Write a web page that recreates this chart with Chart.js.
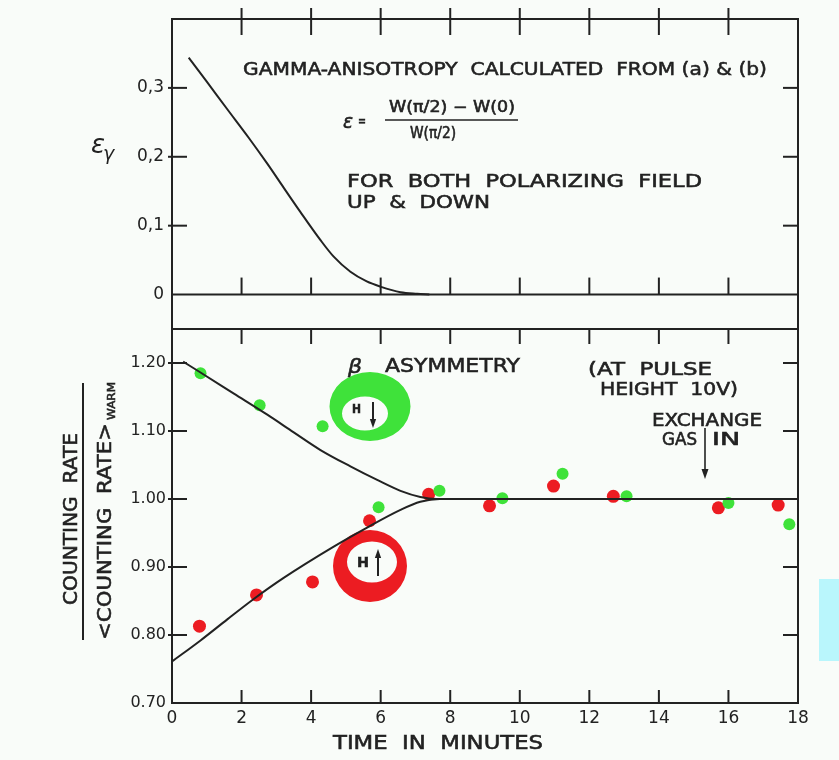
<!DOCTYPE html>
<html>
<head>
<meta charset="utf-8">
<script src="https://cdn.jsdelivr.net/npm/chart.js@4.4.0/dist/chart.umd.min.js"></script>
<style>
  html, body { margin: 0; padding: 0; background: #f9fcf9; }
  #wrap { position: relative; width: 839px; height: 760px; overflow: hidden; }
  canvas { display: block; }
  #tab { position: absolute; left: 819px; top: 579px; width: 20px; height: 82px; background: #b9f6fc; }
</style>
</head>
<body>
<div id="wrap">
  <canvas id="chart" width="839" height="760"></canvas>
  <div id="tab"></div>
</div>
<script>
// ---- axis ticks ----
const timeTicks = [0, 2, 4, 6, 8, 10, 12, 14, 16, 18];
const gammaTicks = [0, 0.1, 0.2, 0.3];
const gammaTickLabels = ['0', '0,1', '0,2', '0,3'];
const ratioTicks = [0.7, 0.8, 0.9, 1.0, 1.1, 1.2];
const ratioTickLabels = ['0.70', '0.80', '0.90', '1.00', '1.10', '1.20'];

// ---- gamma anisotropy curve (upper panel) ----
const gammaCurveT   = [0.48, 1.0, 1.59, 2.2, 2.74, 3.2, 3.69, 4.27, 4.65, 5.13, 5.6, 5.99, 6.57, 7.05, 7.4];
const gammaCurveEps = [0.344, 0.309, 0.269, 0.228, 0.190, 0.156, 0.120, 0.079, 0.055, 0.033, 0.019, 0.0115, 0.0033, 0.001, 0.0];

// ---- beta asymmetry fitted curves (lower panel) ----
const downCurveT = [0.32, 0.82, 1.78, 2.74, 3.5, 4.27, 5.13, 5.9, 6.57, 7.14, 7.6, 18];
const downCurveR = [1.202, 1.186, 1.155, 1.124, 1.098, 1.072, 1.048, 1.028, 1.012, 1.003, 1.0, 1.0];
const upCurveT   = [0, 0.82, 1.59, 2.35, 3.21, 4.65, 5.61, 6.57, 7.14, 7.7, 18];
const upCurveR   = [0.761, 0.792, 0.823, 0.853, 0.884, 0.930, 0.958, 0.984, 0.996, 1.0, 1.0];

// ---- measured counting-rate ratios ----
const downT = [0.82, 2.52, 4.33, 5.94, 7.69, 9.5, 11.23, 13.07, 16.0, 17.75];     // H down
const downR = [1.185, 1.138, 1.107, 0.988, 1.012, 1.001, 1.037, 1.004, 0.994, 0.963];
const upT   = [0.79, 2.43, 4.04, 5.68, 7.38, 9.13, 10.97, 12.69, 15.71, 17.43];   // H up
const upR   = [0.813, 0.859, 0.878, 0.968, 1.007, 0.990, 1.019, 1.004, 0.987, 0.991];

const FONT = '"DejaVu Sans", "Liberation Sans", sans-serif';
const INK = '#222222';
const GREEN = '#3fe23a';
const RED = '#ec1c22';

const pairs = (xs, ys) => xs.map((x, i) => ({ x, y: ys[i] }));

// lettering squeezed/stretched to a given width, vertically centred on cap height
function fitText(ctx, str, x, cy, w, size, style) {
  ctx.save();
  ctx.font = (style || '') + ' ' + size + 'px ' + FONT;
  const m = ctx.measureText(str).width;
  ctx.translate(x, cy + 0.365 * size);
  ctx.scale(w / m, 1);
  ctx.textAlign = 'left';
  ctx.textBaseline = 'alphabetic';
  ctx.fillStyle = INK;
  ctx.strokeStyle = INK;
  ctx.lineWidth = 0.55;
  ctx.fillText(str, 0, 0);
  ctx.strokeText(str, 0, 0);
  ctx.restore();
}

function vText(ctx, str, cx, cy, len, size) {
  ctx.save();
  ctx.translate(cx, cy);
  ctx.rotate(-Math.PI / 2);
  fitText(ctx, str, -len / 2, 0, len, size);
  ctx.restore();
}

function ring(ctx, color, o, i) {
  ctx.save();
  ctx.beginPath();
  ctx.ellipse(o.cx, o.cy, o.rx, o.ry, 0, 0, Math.PI * 2);
  ctx.ellipse(i.cx, i.cy, i.rx, i.ry, 0, 0, Math.PI * 2);
  ctx.fillStyle = color;
  ctx.fill('evenodd');
  ctx.restore();
}

function arrow(ctx, x, y1, y2, head) {
  const dir = Math.sign(y2 - y1);
  ctx.beginPath();
  ctx.moveTo(x, y1);
  ctx.lineTo(x, y2 - dir * head * 0.6);
  ctx.stroke();
  ctx.beginPath();
  ctx.moveTo(x, y2);
  ctx.lineTo(x - head * 0.35, y2 - dir * head);
  ctx.lineTo(x + head * 0.35, y2 - dir * head);
  ctx.closePath();
  ctx.fill();
}

const frameAndNotes = {
  id: 'frameAndNotes',
  beforeDatasetsDraw(chart) {
    const ctx = chart.ctx;
    ring(ctx, GREEN, { cx: 370, cy: 406.5, rx: 40.5, ry: 34.5 }, { cx: 365, cy: 413.5, rx: 23, ry: 17 });
    ring(ctx, RED,   { cx: 370, cy: 566, rx: 37, ry: 36 },     { cx: 372, cy: 562, rx: 25, ry: 20.5 });
    ctx.save();
    ctx.fillStyle = INK;
    ctx.strokeStyle = INK;
    ctx.lineWidth = 2;
    fitText(ctx, 'H', 352, 408.5, 9, 13, 'bold');
    arrow(ctx, 373, 402, 428, 9);
    fitText(ctx, 'H', 357, 562, 12, 14, 'bold');
    arrow(ctx, 378, 576, 549, 9);
    ctx.restore();
  },
  afterDraw(chart) {
    const ctx = chart.ctx;
    const xs = chart.scales.x, yg = chart.scales.yGamma, yr = chart.scales.yRatio;
    const left = xs.left, right = xs.right, top = yg.top, bottom = yr.bottom;
    const split = yg.bottom, zeroY = yg.getPixelForValue(0);

    ctx.save();
    ctx.strokeStyle = INK;
    ctx.fillStyle = INK;
    ctx.lineWidth = 2;
    ctx.lineCap = 'butt';
    ctx.strokeRect(left, top, right - left, bottom - top);
    const hline = (y) => { ctx.beginPath(); ctx.moveTo(left, y); ctx.lineTo(right, y); ctx.stroke(); };
    hline(zeroY);
    hline(split);

    const seg = (x1, y1, x2, y2) => { ctx.beginPath(); ctx.moveTo(x1, y1); ctx.lineTo(x2, y2); ctx.stroke(); };
    timeTicks.slice(1, -1).forEach(t => {
      const px = xs.getPixelForValue(t);
      seg(px, top - 11, px, top + 16);
      seg(px, zeroY - 17, px, zeroY);
      seg(px, split, px, split + 15);
      seg(px, bottom - 13, px, bottom);
    });
    gammaTicks.slice(1).forEach(v => {
      const py = yg.getPixelForValue(v);
      seg(left - 4, py, left + 15, py);
      seg(right - 15, py, right, py);
    });
    ratioTicks.slice(1).forEach(v => {
      const py = yr.getPixelForValue(v);
      seg(left - 4, py, left + 15, py);
      if (v !== 1.0) seg(right - 15, py, right, py);
    });

    // upper panel notes
    fitText(ctx, 'GAMMA-ANISOTROPY  CALCULATED  FROM (a) & (b)', 243, 68.5, 524, 18);
    fitText(ctx, 'ε', 343, 121, 10, 19, 'italic');
    fitText(ctx, '=', 358, 121, 8, 14);
    fitText(ctx, 'W(π/2) − W(0)', 389, 106.5, 126, 15);
    ctx.lineWidth = 1.6;
    seg(385, 120, 518, 120);
    fitText(ctx, 'W(π/2)', 410, 132.5, 46, 15);
    fitText(ctx, 'FOR  BOTH  POLARIZING  FIELD', 347, 180, 355, 18);
    fitText(ctx, 'UP  &  DOWN', 347, 201.5, 143, 18);

    // lower panel notes
    fitText(ctx, 'β', 348, 366, 14, 20, 'italic');
    fitText(ctx, 'ASYMMETRY', 385, 365.5, 135, 19);
    fitText(ctx, '(AT  PULSE', 588, 368.5, 124, 17);
    fitText(ctx, 'HEIGHT  10V)', 600, 388.5, 138, 17);
    fitText(ctx, 'EXCHANGE', 652, 420, 110, 17);
    fitText(ctx, 'GAS', 662, 438.5, 35, 17);
    fitText(ctx, 'IN', 712, 438.5, 28, 17);
    ctx.lineWidth = 1.6;
    arrow(ctx, 705, 428, 479, 10);

    // axis titles
    fitText(ctx, 'TIME  IN  MINUTES', 333, 742.5, 210, 19);
    ctx.save();
    ctx.font = 'italic 26px ' + FONT;
    ctx.fillStyle = INK;
    ctx.fillText('ε', 91, 153);
    ctx.font = 'italic 19px ' + FONT;
    ctx.fillText('γ', 103, 160);
    ctx.restore();
    vText(ctx, 'COUNTING  RATE', 70, 519, 172, 20);
    ctx.lineWidth = 2;
    seg(83, 383, 83, 640);
    vText(ctx, '<COUNTING  RATE>', 103.5, 531.5, 217, 20);
    vText(ctx, 'WARM', 111, 401, 38, 11);
    ctx.restore();
  }
};

const lineStyle = {
  type: 'line', borderColor: INK, borderWidth: 2, pointRadius: 0,
  cubicInterpolationMode: 'monotone', fill: false, order: 0
};

new Chart(document.getElementById('chart'), {
  data: {
    datasets: [
      Object.assign({ label: 'gamma anisotropy', data: pairs(gammaCurveT, gammaCurveEps), yAxisID: 'yGamma' }, lineStyle),
      Object.assign({ label: 'H down fit', data: pairs(downCurveT, downCurveR), yAxisID: 'yRatio' }, lineStyle),
      Object.assign({ label: 'H up fit', data: pairs(upCurveT, upCurveR), yAxisID: 'yRatio' }, lineStyle),
      { type: 'scatter', label: 'H down', data: pairs(downT, downR), yAxisID: 'yRatio',
        backgroundColor: GREEN, borderWidth: 0, pointRadius: 6, order: 1 },
      { type: 'scatter', label: 'H up', data: pairs(upT, upR), yAxisID: 'yRatio',
        backgroundColor: RED, borderWidth: 0, pointRadius: 6.5, order: 2 }
    ]
  },
  options: {
    responsive: false,
    animation: false,
    layout: { padding: { top: 19, right: 41, bottom: 0, left: 0 } },
    plugins: { legend: { display: false }, tooltip: { enabled: false } },
    scales: {
      x: {
        type: 'linear', position: 'bottom', min: 0, max: 18,
        afterBuildTicks: s => { s.ticks = timeTicks.map(v => ({ value: v })); },
        afterFit: s => { s.height = 57; },
        grid: { display: false, drawTicks: false },
        border: { display: false },
        ticks: { padding: 5, autoSkip: false, maxRotation: 0, color: INK, font: { family: FONT, size: 17 } }
      },
      yRatio: {
        type: 'linear', position: 'left', min: 0.7, max: 1.25, stack: 'panels', stackWeight: 374,
        afterBuildTicks: s => { s.ticks = ratioTicks.map(v => ({ value: v })); },
        afterFit: s => { s.width = 172; },
        grid: { display: false, drawTicks: false },
        border: { display: false },
        ticks: { padding: 6, color: INK, font: { family: FONT, size: 16 },
                 callback: v => ratioTickLabels[ratioTicks.indexOf(v)] }
      },
      yGamma: {
        type: 'linear', position: 'left', min: -0.05, max: 0.4, stack: 'panels', stackWeight: 310,
        afterBuildTicks: s => { s.ticks = gammaTicks.map(v => ({ value: v })); },
        afterFit: s => { s.width = 172; },
        grid: { display: false, drawTicks: false },
        border: { display: false },
        ticks: { padding: 8, color: INK, font: { family: FONT, size: 17 },
                 callback: v => gammaTickLabels[gammaTicks.indexOf(v)] }
      }
    }
  },
  plugins: [frameAndNotes]
});
</script>
</body>
</html>
